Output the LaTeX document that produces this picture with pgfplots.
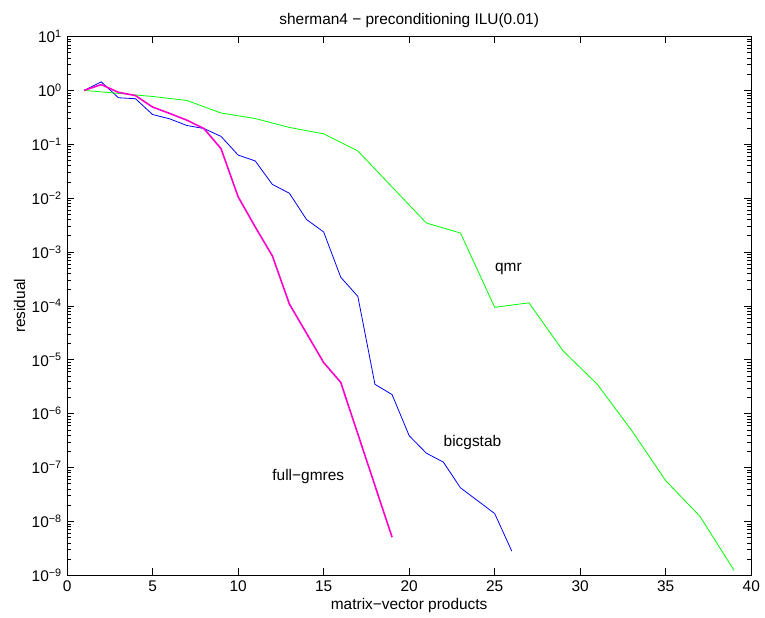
\documentclass[border=0pt]{standalone}
\usepackage{pgfplots}
\pgfplotsset{compat=1.18}
\usepackage{fontspec}
\setmainfont{Liberation Sans}
\definecolor{qmrgreen}{rgb}{0,1,0}
\definecolor{bicblue}{rgb}{0,0,1}
\definecolor{gmresmag}{rgb}{1,0,0.8}
\newcommand{\fs}{\fontsize{15.5}{18}\selectfont}
\begin{document}
\fs
\begin{tikzpicture}
\begin{axis}[
  scale only axis,
  width=687pt, height=541pt,
  ymode=log,
  xmin=0, xmax=40, ymin=1e-9, ymax=1e1,
  xtick={0,5,...,40},
  ytickten={-9,...,1},
  yminorticks=true,
  tick align=inside,
  major tick length=7pt,
  minor tick length=4pt,
  axis line style={line width=0.9pt},
  every tick/.style={black, line width=0.6pt},
  /pgf/number format/assume math mode=true,
  xticklabel style={font=\fs},
  yticklabel style={font=\fs},
  yticklabel={\pgfmathtruncatemacro\e{round(\tick/ln(10))}10\textsuperscript{\ifnum\e<0 −\the\numexpr-\e\relax\else\e\fi}},
  title={sherman4 − preconditioning ILU(0.01)},
  title style={font=\fs, yshift=-3pt},
  xlabel={matrix−vector products},
  ylabel={residual},
  xlabel style={font=\fs, yshift=4pt},
  ylabel style={font=\fs, yshift=-4pt},
  clip=false,
]
\addplot[bicblue, line width=0.8pt] coordinates {
(1,1.0) (2,1.44) (3,0.73) (4,0.70) (5,0.356) (6,0.296) (7,0.223) (8,0.196) (9,0.14)
(10,0.063) (11,0.049) (12,0.018) (13,0.0123) (14,0.0040) (15,0.00236) (16,3.4e-4)
(17,1.5e-4) (18,3.5e-6) (19,2.26e-6) (20,3.9e-7) (21,1.85e-7) (22,1.26e-7) (23,4.2e-8)
(25,1.4e-8) (26,2.8e-9)
};
\addplot[qmrgreen, line width=0.8pt] coordinates {
(1,1.0) (3,0.88) (5,0.77) (7,0.65) (9,0.38) (11,0.30) (13,0.205) (15,0.156) (17,0.075)
(21,3.46e-3) (23,2.25e-3) (25,9.4e-5) (27,1.14e-4) (29,1.46e-5) (31,3.5e-6) (33,4.9e-7)
(35,5.7e-8) (37,1.24e-8) (39,1.23e-9)
};
\addplot[gmresmag, line width=1.6pt] coordinates {
(1,1.0) (2,1.28) (3,0.92) (4,0.80) (5,0.49) (6,0.373) (7,0.28) (8,0.196) (9,0.083)
(10,0.0106) (11,2.92e-3) (12,8.5e-4) (13,1.08e-4) (15,8.9e-6) (16,3.8e-6) (19,5.1e-9)
};
\node[font=\fs] at (axis cs:25.8,4.9e-4) {qmr};
\node[font=\fs] at (axis cs:23.7,2.9e-7) {bicgstab};
\node[font=\fs] at (axis cs:14.1,6.9e-8) {full−gmres};
\path (rel axis cs:-0.098,-0.078) rectangle (rel axis cs:1.016,1.0677);
\end{axis}
\end{tikzpicture}
\end{document}
